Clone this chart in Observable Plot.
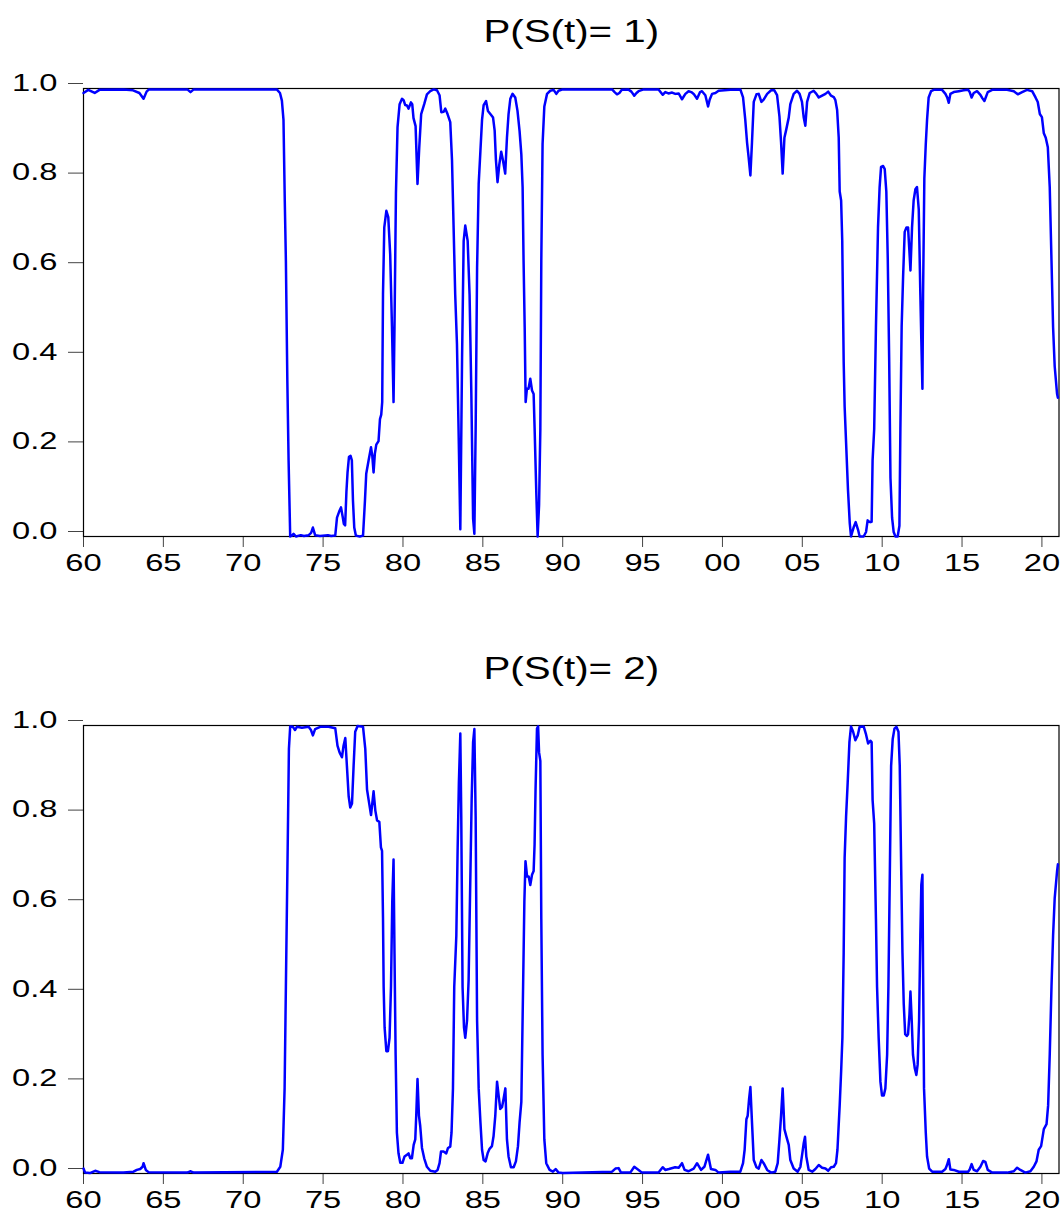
<!DOCTYPE html>
<html>
<head>
<meta charset="utf-8">
<script src="https://cdn.jsdelivr.net/npm/d3@7"></script>
<script src="https://cdn.jsdelivr.net/npm/@observablehq/plot@0.6"></script>
<style>
  html, body { margin: 0; padding: 0; background: #ffffff; }
  #chart { width: 1060px; }
  #chart svg { display: block; }
</style>
</head>
<body>
<div id="chart"></div>
<script>
// ---------- data ----------
const titles = ["P(S(t)= 1)", "P(S(t)= 2)"];
const tickYears = [1960, 1965, 1970, 1975, 1980, 1985, 1990, 1995, 2000, 2005, 2010, 2015, 2020];
const tickLabels = ["60", "65", "70", "75", "80", "85", "90", "95", "00", "05", "10", "15", "20"];
const yTicks = [0, 0.2, 0.4, 0.6, 0.8, 1.0];
const yTickLabels = ["0.0", "0.2", "0.4", "0.6", "0.8", "1.0"];

const p1Years = [1960.00,1960.30,1960.70,1961.00,1962.50,1963.10,1963.50,1963.76,1963.95,1964.10,1966.50,1966.70,1966.90,1972.10,1972.30,1972.42,1972.52,1972.60,1972.67,1972.76,1972.84,1972.94,1973.05,1973.15,1973.30,1973.60,1973.80,1974.10,1974.25,1974.36,1974.50,1974.80,1975.30,1975.50,1975.76,1975.87,1976.00,1976.12,1976.22,1976.30,1976.38,1976.46,1976.53,1976.62,1976.72,1976.80,1976.87,1976.95,1977.05,1977.30,1977.50,1977.62,1977.70,1977.85,1978.00,1978.08,1978.16,1978.24,1978.33,1978.47,1978.56,1978.64,1978.70,1978.75,1978.83,1978.96,1979.08,1979.20,1979.31,1979.41,1979.47,1979.56,1979.66,1979.79,1979.94,1980.04,1980.14,1980.25,1980.35,1980.50,1980.58,1980.66,1980.79,1980.91,1981.02,1981.14,1981.33,1981.50,1981.71,1981.92,1982.13,1982.29,1982.40,1982.55,1982.65,1982.79,1982.96,1983.07,1983.17,1983.27,1983.38,1983.48,1983.59,1983.70,1983.80,1983.90,1984.05,1984.17,1984.28,1984.39,1984.47,1984.55,1984.64,1984.74,1984.85,1984.95,1985.05,1985.20,1985.32,1985.47,1985.64,1985.74,1985.82,1985.92,1986.03,1986.15,1986.26,1986.40,1986.51,1986.61,1986.72,1986.86,1987.03,1987.17,1987.30,1987.41,1987.49,1987.55,1987.62,1987.68,1987.76,1987.86,1987.97,1988.08,1988.18,1988.24,1988.35,1988.43,1988.52,1988.60,1988.66,1988.74,1988.85,1989.02,1989.22,1989.43,1989.60,1989.74,1990.00,1993.09,1993.25,1993.40,1993.55,1993.70,1994.10,1994.30,1994.48,1994.62,1994.75,1995.07,1996.00,1996.26,1996.42,1996.62,1996.85,1997.05,1997.26,1997.47,1997.68,1997.88,1998.05,1998.20,1998.41,1998.60,1998.72,1998.93,1999.10,1999.20,1999.35,1999.56,1999.76,2000.50,2001.12,2001.29,2001.43,2001.54,2001.64,2001.75,2001.85,2001.96,2002.13,2002.27,2002.44,2002.58,2002.80,2003.05,2003.25,2003.42,2003.57,2003.67,2003.77,2003.88,2003.98,2004.15,2004.25,2004.46,2004.67,2004.83,2004.98,2005.09,2005.19,2005.30,2005.46,2005.71,2005.88,2006.03,2006.24,2006.45,2006.62,2006.80,2006.97,2007.07,2007.18,2007.28,2007.34,2007.43,2007.50,2007.59,2007.65,2007.74,2007.86,2007.97,2008.05,2008.13,2008.21,2008.34,2008.49,2008.59,2008.84,2008.99,2009.09,2009.18,2009.26,2009.34,2009.40,2009.50,2009.61,2009.74,2009.84,2009.93,2010.06,2010.16,2010.26,2010.35,2010.44,2010.52,2010.62,2010.72,2010.83,2010.97,2011.08,2011.14,2011.22,2011.31,2011.41,2011.52,2011.62,2011.70,2011.77,2011.87,2011.97,2012.08,2012.18,2012.29,2012.39,2012.45,2012.52,2012.56,2012.64,2012.73,2012.81,2012.91,2013.06,2013.23,2013.75,2013.96,2014.07,2014.17,2014.27,2014.48,2014.80,2015.10,2015.38,2015.48,2015.60,2015.73,2015.94,2016.15,2016.28,2016.40,2016.61,2016.89,2017.82,2018.24,2018.49,2018.76,2019.07,2019.39,2019.60,2019.74,2019.87,2020.00,2020.12,2020.24,2020.37,2020.49,2020.60,2020.70,2020.80,2020.95,2021.00];
const p1Values = [0.990,0.997,0.990,0.997,0.998,0.996,0.990,0.977,0.993,0.998,0.998,0.992,0.998,0.998,0.990,0.973,0.930,0.750,0.616,0.350,0.169,0.000,0.002,0.006,0.000,0.003,0.001,0.003,0.008,0.020,0.003,0.001,0.003,0.001,0.002,0.042,0.055,0.065,0.045,0.028,0.025,0.100,0.143,0.178,0.180,0.170,0.080,0.020,0.002,0.000,0.002,0.080,0.140,0.170,0.199,0.180,0.143,0.185,0.205,0.213,0.262,0.272,0.300,0.541,0.690,0.727,0.713,0.630,0.470,0.300,0.470,0.765,0.914,0.965,0.977,0.974,0.963,0.962,0.955,0.969,0.965,0.934,0.916,0.787,0.869,0.943,0.965,0.987,0.994,0.998,0.996,0.985,0.947,0.948,0.955,0.943,0.925,0.840,0.690,0.540,0.430,0.240,0.016,0.400,0.660,0.694,0.660,0.540,0.320,0.040,0.006,0.240,0.600,0.787,0.862,0.930,0.963,0.972,0.950,0.943,0.935,0.906,0.840,0.791,0.830,0.859,0.840,0.810,0.890,0.943,0.977,0.988,0.980,0.950,0.905,0.853,0.780,0.616,0.467,0.300,0.330,0.330,0.352,0.326,0.318,0.243,0.094,0.000,0.070,0.240,0.616,0.876,0.960,0.988,0.995,0.997,0.988,0.995,0.998,0.998,0.992,0.987,0.990,0.997,0.998,0.993,0.984,0.990,0.994,0.998,0.998,0.986,0.992,0.989,0.991,0.988,0.989,0.976,0.988,0.994,0.992,0.988,0.977,0.992,0.994,0.985,0.960,0.975,0.988,0.990,0.995,0.997,0.998,0.980,0.930,0.880,0.846,0.806,0.880,0.970,0.987,0.988,0.970,0.975,0.988,0.996,0.996,0.985,0.937,0.880,0.810,0.890,0.906,0.935,0.965,0.988,0.995,0.988,0.970,0.935,0.917,0.970,0.990,0.995,0.988,0.980,0.984,0.988,0.993,0.984,0.981,0.974,0.952,0.890,0.770,0.750,0.660,0.390,0.290,0.210,0.104,0.030,0.000,0.010,0.020,0.032,0.015,0.000,0.000,0.010,0.036,0.033,0.032,0.033,0.170,0.240,0.467,0.690,0.780,0.825,0.827,0.820,0.770,0.620,0.390,0.130,0.042,0.010,0.000,0.000,0.024,0.240,0.470,0.580,0.680,0.690,0.690,0.640,0.594,0.690,0.750,0.775,0.780,0.730,0.540,0.440,0.330,0.540,0.800,0.876,0.930,0.980,0.994,0.997,0.997,0.988,0.980,0.968,0.988,0.992,0.994,0.996,0.997,0.992,0.980,0.990,0.994,0.986,0.978,0.972,0.992,0.997,0.997,0.994,0.987,0.992,0.997,0.994,0.980,0.970,0.943,0.936,0.900,0.890,0.869,0.780,0.616,0.467,0.380,0.318,0.310];

const p2Years = [1960.00,1960.10,1960.40,1960.73,1961.00,1962.50,1963.13,1963.34,1963.55,1963.70,1963.76,1963.90,1964.07,1966.50,1966.68,1966.90,1972.11,1972.32,1972.48,1972.59,1972.67,1972.78,1972.86,1972.94,1973.11,1973.24,1973.36,1973.67,1974.09,1974.24,1974.36,1974.50,1974.82,1975.34,1975.76,1975.90,1976.03,1976.18,1976.28,1976.39,1976.49,1976.60,1976.70,1976.81,1976.91,1977.01,1977.16,1977.50,1977.64,1977.75,1977.85,1978.00,1978.16,1978.27,1978.38,1978.52,1978.62,1978.69,1978.75,1978.79,1978.85,1978.96,1979.06,1979.16,1979.25,1979.33,1979.41,1979.47,1979.54,1979.62,1979.72,1979.83,1979.97,1980.10,1980.25,1980.35,1980.46,1980.56,1980.67,1980.77,1980.83,1980.91,1981.00,1981.08,1981.19,1981.33,1981.50,1981.71,1982.02,1982.17,1982.29,1982.38,1982.54,1982.71,1982.82,1982.96,1983.04,1983.13,1983.21,1983.34,1983.42,1983.50,1983.59,1983.65,1983.73,1983.82,1983.90,1984.01,1984.11,1984.21,1984.30,1984.39,1984.47,1984.55,1984.64,1984.74,1984.85,1984.95,1985.05,1985.17,1985.30,1985.42,1985.57,1985.67,1985.78,1985.89,1985.99,1986.09,1986.20,1986.30,1986.41,1986.51,1986.61,1986.76,1986.93,1987.07,1987.20,1987.30,1987.41,1987.52,1987.60,1987.67,1987.77,1987.87,1987.97,1988.08,1988.18,1988.24,1988.30,1988.39,1988.46,1988.52,1988.60,1988.66,1988.74,1988.85,1988.97,1989.18,1989.39,1989.56,1989.74,1990.00,1993.09,1993.30,1993.50,1993.65,1994.23,1994.48,1994.75,1994.96,1996.00,1996.26,1996.42,1996.65,1997.04,1997.26,1997.47,1997.63,1997.88,1998.20,1998.41,1998.66,1998.87,1999.10,1999.28,1999.56,1999.76,2000.50,2001.12,2001.29,2001.39,2001.50,2001.58,2001.67,2001.75,2001.85,2001.96,2002.13,2002.27,2002.44,2002.58,2002.80,2003.05,2003.31,2003.46,2003.57,2003.67,2003.77,2003.88,2004.00,2004.15,2004.25,2004.46,2004.71,2004.88,2005.00,2005.09,2005.17,2005.25,2005.40,2005.62,2005.82,2006.03,2006.24,2006.45,2006.62,2006.80,2006.97,2007.11,2007.20,2007.34,2007.43,2007.51,2007.59,2007.65,2007.74,2007.84,2007.95,2008.05,2008.18,2008.32,2008.47,2008.59,2008.84,2008.99,2009.12,2009.26,2009.34,2009.40,2009.50,2009.61,2009.68,2009.78,2009.89,2009.99,2010.10,2010.20,2010.31,2010.39,2010.47,2010.56,2010.66,2010.77,2010.89,2011.02,2011.10,2011.19,2011.27,2011.35,2011.44,2011.54,2011.62,2011.71,2011.77,2011.85,2011.93,2012.04,2012.14,2012.22,2012.31,2012.39,2012.45,2012.52,2012.56,2012.62,2012.73,2012.81,2012.94,2013.13,2013.75,2013.96,2014.06,2014.17,2014.27,2014.48,2014.80,2015.38,2015.48,2015.60,2015.73,2015.94,2016.15,2016.32,2016.46,2016.61,2016.89,2017.82,2018.24,2018.45,2018.65,2018.96,2019.28,2019.49,2019.66,2019.80,2019.95,2020.12,2020.29,2020.39,2020.49,2020.60,2020.70,2020.80,2020.95,2021.00];
const p2Values = [0.011,0.002,0.001,0.006,0.003,0.002,0.004,0.008,0.010,0.015,0.023,0.008,0.003,0.002,0.005,0.002,0.004,0.015,0.053,0.190,0.417,0.720,0.948,0.998,0.997,0.990,0.997,0.995,0.997,0.990,0.978,0.992,0.997,0.997,0.994,0.955,0.940,0.929,0.955,0.972,0.910,0.842,0.817,0.826,0.910,0.986,0.999,0.997,0.948,0.857,0.834,0.800,0.853,0.810,0.788,0.785,0.728,0.720,0.570,0.417,0.326,0.273,0.273,0.303,0.417,0.607,0.701,0.490,0.265,0.091,0.045,0.024,0.024,0.038,0.042,0.045,0.034,0.034,0.064,0.076,0.129,0.211,0.129,0.106,0.057,0.034,0.015,0.006,0.004,0.008,0.023,0.049,0.049,0.045,0.057,0.060,0.091,0.190,0.417,0.530,0.720,0.872,0.982,0.796,0.417,0.326,0.303,0.341,0.432,0.644,0.834,0.963,0.992,0.796,0.341,0.190,0.114,0.053,0.030,0.027,0.045,0.055,0.061,0.083,0.129,0.205,0.174,0.144,0.148,0.167,0.190,0.076,0.038,0.014,0.014,0.027,0.061,0.114,0.160,0.417,0.607,0.697,0.663,0.663,0.644,0.667,0.675,0.735,0.857,0.993,0.998,0.940,0.921,0.568,0.265,0.076,0.023,0.008,0.004,0.010,0.002,0.001,0.004,0.011,0.012,0.002,0.002,0.015,0.008,0.002,0.002,0.014,0.008,0.010,0.014,0.013,0.023,0.008,0.005,0.011,0.023,0.008,0.015,0.042,0.010,0.008,0.002,0.004,0.004,0.023,0.053,0.121,0.129,0.167,0.193,0.114,0.030,0.014,0.011,0.030,0.023,0.008,0.002,0.004,0.023,0.076,0.129,0.190,0.099,0.083,0.064,0.030,0.011,0.004,0.015,0.045,0.068,0.082,0.038,0.008,0.004,0.010,0.019,0.013,0.011,0.006,0.014,0.015,0.023,0.053,0.152,0.227,0.303,0.493,0.705,0.796,0.872,0.963,0.998,0.986,0.967,0.978,0.997,0.998,0.980,0.960,0.966,0.963,0.834,0.781,0.568,0.417,0.303,0.205,0.174,0.174,0.190,0.265,0.417,0.644,0.910,0.970,0.993,0.997,0.986,0.910,0.682,0.493,0.379,0.311,0.307,0.311,0.356,0.406,0.341,0.265,0.235,0.220,0.243,0.341,0.531,0.644,0.667,0.455,0.190,0.091,0.038,0.011,0.004,0.004,0.010,0.019,0.032,0.009,0.008,0.004,0.004,0.009,0.021,0.008,0.005,0.015,0.028,0.026,0.008,0.002,0.002,0.005,0.013,0.008,0.002,0.005,0.015,0.027,0.053,0.061,0.099,0.110,0.152,0.265,0.417,0.531,0.614,0.675,0.690];

// ---------- drawing ----------
const FONT = "'Liberation Sans', Arial, Helvetica, sans-serif";
const TICK_STRETCH = 1.42;
const TITLE_STRETCH = 1.3;

function stretchTexts(svg, selector, s) {
  svg.querySelectorAll(selector).forEach(t => {
    const x = parseFloat(t.getAttribute("x")) || 0;
    const tr = t.getAttribute("transform") || "";
    t.setAttribute("x", 0);
    t.setAttribute("transform", `${tr} translate(${x},0) scale(${s},1)`);
  });
}

function panel(years, values, title, height, marginBottom) {
  const data = years.map((yr, i) => ({year: yr, p: values[i]}));
  const svg = Plot.plot({
    width: 1060,
    height,
    marginTop: 88,
    marginBottom,
    marginLeft: 83,
    marginRight: 1.5,
    style: {fontFamily: FONT, fontSize: "23px", background: "#ffffff", color: "#000000", overflow: "visible"},
    x: {domain: [1960, 2021.07], label: null},
    y: {domain: [0, 1], label: null},
    marks: [
      Plot.axisX({ticks: tickYears, tickFormat: d => tickLabels[tickYears.indexOf(d)], tickSize: 11, tickPadding: 7, stroke: "#444444", fill: "#000000", label: null}),
      Plot.axisY({ticks: yTicks, tickFormat: d => yTickLabels[yTicks.indexOf(d)], tickSize: 15, tickPadding: 11, dy: -5, stroke: "#444444", fill: "#000000", label: null}),
      Plot.frame({stroke: "#000000", strokeWidth: 1.2}),
      Plot.line(data, {x: "year", y: "p", stroke: "#0000ff", strokeWidth: 2.5, strokeLinejoin: "round"}),
      Plot.text([title], {text: d => d, frameAnchor: "top", dy: -47, lineAnchor: "bottom", fontSize: 31, fill: "#000000"})
    ]
  });
  stretchTexts(svg, 'g[aria-label="x-axis tick label"] text, g[aria-label="y-axis tick label"] text', TICK_STRETCH);
  stretchTexts(svg, 'g[aria-label="text"] text', TITLE_STRETCH);
  return svg;
}

const chart = document.getElementById("chart");
chart.appendChild(panel(p1Years, p1Values, titles[0], 637, 101));
chart.appendChild(panel(p2Years, p2Values, titles[1], 576, 40));
</script>
</body>
</html>
